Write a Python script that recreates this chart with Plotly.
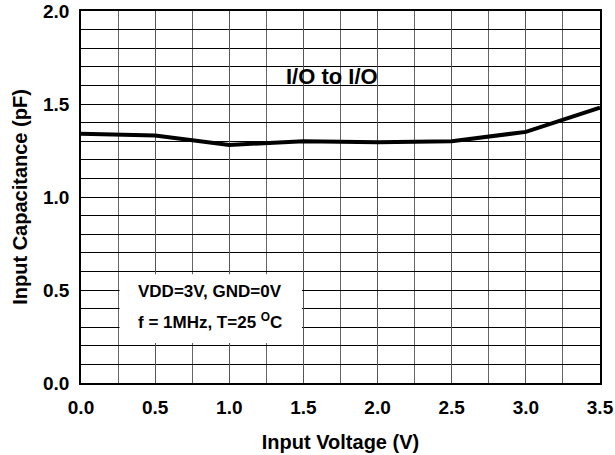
import plotly.graph_objects as go

voltage = [0.0, 0.5, 1.0, 1.5, 2.0, 2.5, 3.0, 3.5]
capacitance = [1.34, 1.33, 1.28, 1.30, 1.295, 1.30, 1.35, 1.48]
x_ticks = [0.0, 0.5, 1.0, 1.5, 2.0, 2.5, 3.0, 3.5]
x_tick_labels = ["0.0", "0.5", "1.0", "1.5", "2.0", "2.5", "3.0", "3.5"]
y_ticks = [0.0, 0.5, 1.0, 1.5, 2.0]
y_tick_labels = ["0.0", "0.5", "1.0", "1.5", "2.0"]

FONT = "Liberation Sans, Arial, sans-serif"

fig = go.Figure()
fig.add_trace(go.Scatter(x=voltage, y=capacitance, mode="lines",
                         line=dict(color="black", width=4), showlegend=False))

fig.update_layout(
    width=615, height=455,
    margin=dict(l=81, r=15, t=11, b=72),
    paper_bgcolor="white", plot_bgcolor="white",
    font=dict(family=FONT, color="black"),
    xaxis=dict(range=[0, 3.5], tickvals=x_ticks, ticktext=x_tick_labels,
               automargin=False,
               showgrid=True, gridcolor="#555", gridwidth=1,
               minor=dict(dtick=0.25, showgrid=True, gridcolor="#666", gridwidth=1),
               showline=True, linecolor="black", linewidth=1.5, mirror=True,
               zeroline=False, ticks="", ticklabelstandoff=6,
               tickfont=dict(size=19, family=FONT, weight="bold"),
               title=dict(text="Input Voltage (V)", font=dict(size=20, weight="bold"), standoff=18)),
    yaxis=dict(range=[0, 2.0], tickvals=y_ticks, ticktext=y_tick_labels,
               automargin=False,
               showgrid=True, gridcolor="black", gridwidth=1,
               minor=dict(dtick=0.1, showgrid=True, gridcolor="black", gridwidth=1),
               showline=True, linecolor="black", linewidth=1.5, mirror=True,
               zeroline=False, ticks="", ticklabelstandoff=6,
               tickfont=dict(size=19, family=FONT, weight="bold"),
               title=dict(text="Input Capacitance (pF)", font=dict(size=20, weight="bold"), standoff=10)),
)

fig.add_shape(type="rect", xref="x", yref="y", x0=0.26, x1=1.49, y0=0.215, y1=0.585,
              fillcolor="white", line=dict(width=0), layer="between")

fig.add_annotation(x=1.69, y=1.65, xref="x", yref="y", text="<b>I/O to I/O</b>",
                   showarrow=False, font=dict(size=22, family=FONT))
fig.add_annotation(x=0.87, y=0.49, xref="x", yref="y", text="<b>VDD=3V, GND=0V</b>",
                   showarrow=False, font=dict(size=17, family=FONT))
fig.add_annotation(x=0.87, y=0.335, xref="x", yref="y",
                   text="<b>f = 1MHz, T=25 <sup>O</sup>C</b>",
                   showarrow=False, font=dict(size=17, family=FONT))

fig.write_html("out.html", config={"displayModeBar": False},
               post_script="document.body.style.margin='0';document.body.style.overflow='hidden';")
